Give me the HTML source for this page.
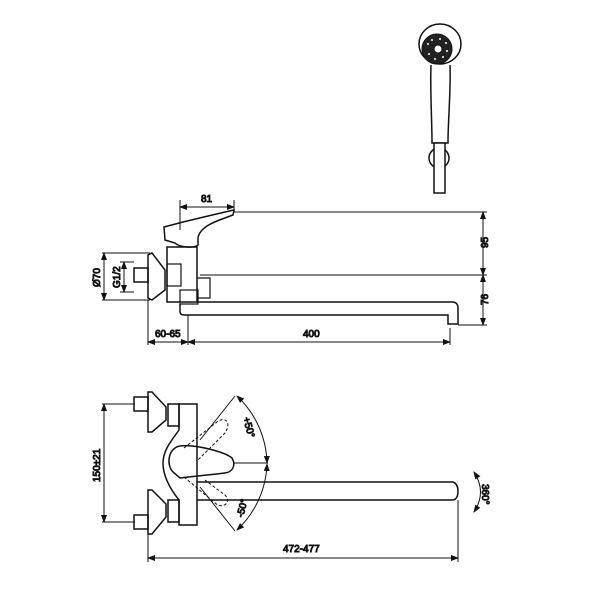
<!DOCTYPE html><html><head><style>body{margin:0;background:#fff}svg{display:block}text{font-family:"Liberation Sans",sans-serif;font-size:10px;fill:#111}</style></head><body>
<svg width="600" height="600" viewBox="0 0 600 600" fill="none" stroke="#111" stroke-width="1">
<defs><marker id="a" markerWidth="8" markerHeight="6" refX="7" refY="3" orient="auto-start-reverse"><path d="M0,0L8,3L0,6z" fill="#111" stroke="none"/></marker></defs>
<!-- shower -->
<ellipse cx="440" cy="44" rx="21" ry="20" stroke-width="1.5"/>
<circle cx="437" cy="49" r="15" fill="#222"/>
<circle cx="438" cy="49" r="4" fill="#fff"/>
<g fill="#fff" stroke="none"><circle cx="428" cy="44" r="1"/><circle cx="432" cy="40" r="1"/><circle cx="440" cy="39" r="1"/><circle cx="446" cy="43" r="1"/><circle cx="447" cy="51" r="1"/><circle cx="443" cy="57" r="1"/><circle cx="435" cy="59" r="1"/><circle cx="429" cy="54" r="1"/></g>
<path d="M431,65 C430,90 432,120 432,143 L448,143 C448,120 451,90 450,65" stroke-width="1.5"/>
<circle cx="439" cy="158" r="10" stroke-width="1.5"/>
<rect x="434" y="143" width="11" height="50" fill="#fff" stroke-width="1.5"/>
<!-- side view -->
<line x1="180" y1="207" x2="234" y2="207" marker-start="url(#a)" marker-end="url(#a)"/>
<line x1="180" y1="200" x2="180" y2="230"/><line x1="234" y1="200" x2="234" y2="212"/>
<text x="201" y="202">81</text>
<line x1="234" y1="212" x2="487" y2="212"/>
<line x1="200" y1="275" x2="487" y2="275"/>
<line x1="458" y1="325" x2="487" y2="325"/>
<line x1="483" y1="212" x2="483" y2="275" marker-start="url(#a)" marker-end="url(#a)"/>
<line x1="483" y1="275" x2="483" y2="325" marker-start="url(#a)" marker-end="url(#a)"/>
<text transform="translate(488,248) rotate(-90)">95</text>
<text transform="translate(488,305) rotate(-90)">76</text>
<path d="M164,227 L183,222 C200,218 220,213 234,210 L233,215 C220,220 200,225 198,238 L198,245 C195,248 180,248 175,243 L165,240 Z" stroke-width="1.5"/>
<rect x="167" y="247" width="30" height="55" stroke-width="1.5"/>
<rect x="167" y="264" width="14" height="22" stroke-width="1.2"/>
<rect x="180" y="290" width="18" height="14" stroke-width="1.2"/>
<path d="M197,278 L210,278 L210,298 L197,298" stroke-width="1.2"/>
<path d="M148,255 L152,253 L165,270 L165,290 L152,300 L148,298 Z" stroke-width="1.5"/>
<rect x="134" y="268" width="14" height="14" stroke-width="1.5"/>
<line x1="102" y1="253" x2="150" y2="253"/><line x1="102" y1="300" x2="150" y2="300"/>
<line x1="104" y1="253" x2="104" y2="300" marker-start="url(#a)" marker-end="url(#a)"/>
<text transform="translate(100,287) rotate(-90)">Ø70</text>
<line x1="120" y1="262" x2="134" y2="262"/><line x1="120" y1="292" x2="134" y2="292"/>
<line x1="124" y1="262" x2="124" y2="292" marker-start="url(#a)" marker-end="url(#a)"/>
<text transform="translate(120,288) rotate(-90)">G1/2</text>
<path d="M180,304 L180,312 Q180,315 185,315 L448,315 L448,324 L458,324 L458,308 Q458,302 452,302 L197,302" stroke-width="1.5"/>
<line x1="148" y1="300" x2="148" y2="345"/><line x1="188" y1="315" x2="188" y2="345"/><line x1="450" y1="328" x2="450" y2="345"/>
<line x1="148" y1="342" x2="188" y2="342" marker-start="url(#a)" marker-end="url(#a)"/>
<line x1="188" y1="342" x2="450" y2="342" marker-start="url(#a)" marker-end="url(#a)"/>
<text x="155" y="337">60-65</text><text x="303" y="337">400</text>
<!-- plan view -->
<line x1="102" y1="404" x2="135" y2="404"/><line x1="102" y1="522" x2="135" y2="522"/>
<line x1="104" y1="404" x2="104" y2="522" marker-start="url(#a)" marker-end="url(#a)"/>
<text transform="translate(100,482) rotate(-90)">150±21</text>
<g stroke-width="1.5">
<rect x="134" y="397" width="14" height="14"/><path d="M148,392 L152,392 L166,407 L166,420 L152,432 L148,432 Z"/>
<rect x="168" y="404" width="11" height="22"/>
<rect x="134" y="515" width="14" height="14"/><path d="M148,490 L152,490 L166,504 L166,517 L152,534 L148,534 Z"/>
<rect x="168" y="500" width="11" height="22"/>
<path d="M179,404 L197,404 L197,525 L179,525 L179,500 C175,495 163,480 163,463 C163,450 172,440 179,430 Z"/>
<path d="M173,472 C166,465 168,448 180,446 C195,444 225,452 232,458 C236,465 233,472 225,473 C210,475 195,476 180,478 Z"/>
<path d="M197,482 L453,482 Q458,484 458,491 Q458,499 453,500 L197,500"/>
</g>
<path d="M184,448 L217,422 C225,416 232,422 225,433 L198,460 M184,477 L215,503 C223,510 232,502 225,495 L205,480" stroke-dasharray="3,2"/>
<path d="M235,396 L200,440 M235,531 L200,487" />
<path d="M237,396 A95,95 0 0 1 267,463" marker-start="url(#a)" marker-end="url(#a)"/>
<path d="M267,464 A95,95 0 0 1 237,530" marker-start="url(#a)" marker-end="url(#a)"/>
<line x1="233" y1="463" x2="268" y2="463"/>
<text transform="translate(243,418) rotate(75)">+50°</text>
<text transform="translate(243,518) rotate(-75)">-50°</text>
<path d="M474,472 Q487,492 474,512" marker-start="url(#a)" marker-end="url(#a)"/>
<text transform="translate(482,484) rotate(90)">360°</text>
<line x1="148" y1="525" x2="148" y2="562"/><line x1="458" y1="500" x2="458" y2="562"/>
<line x1="148" y1="558" x2="458" y2="558" marker-start="url(#a)" marker-end="url(#a)"/>
<text x="283" y="552">472-477</text>
</svg></body></html>
